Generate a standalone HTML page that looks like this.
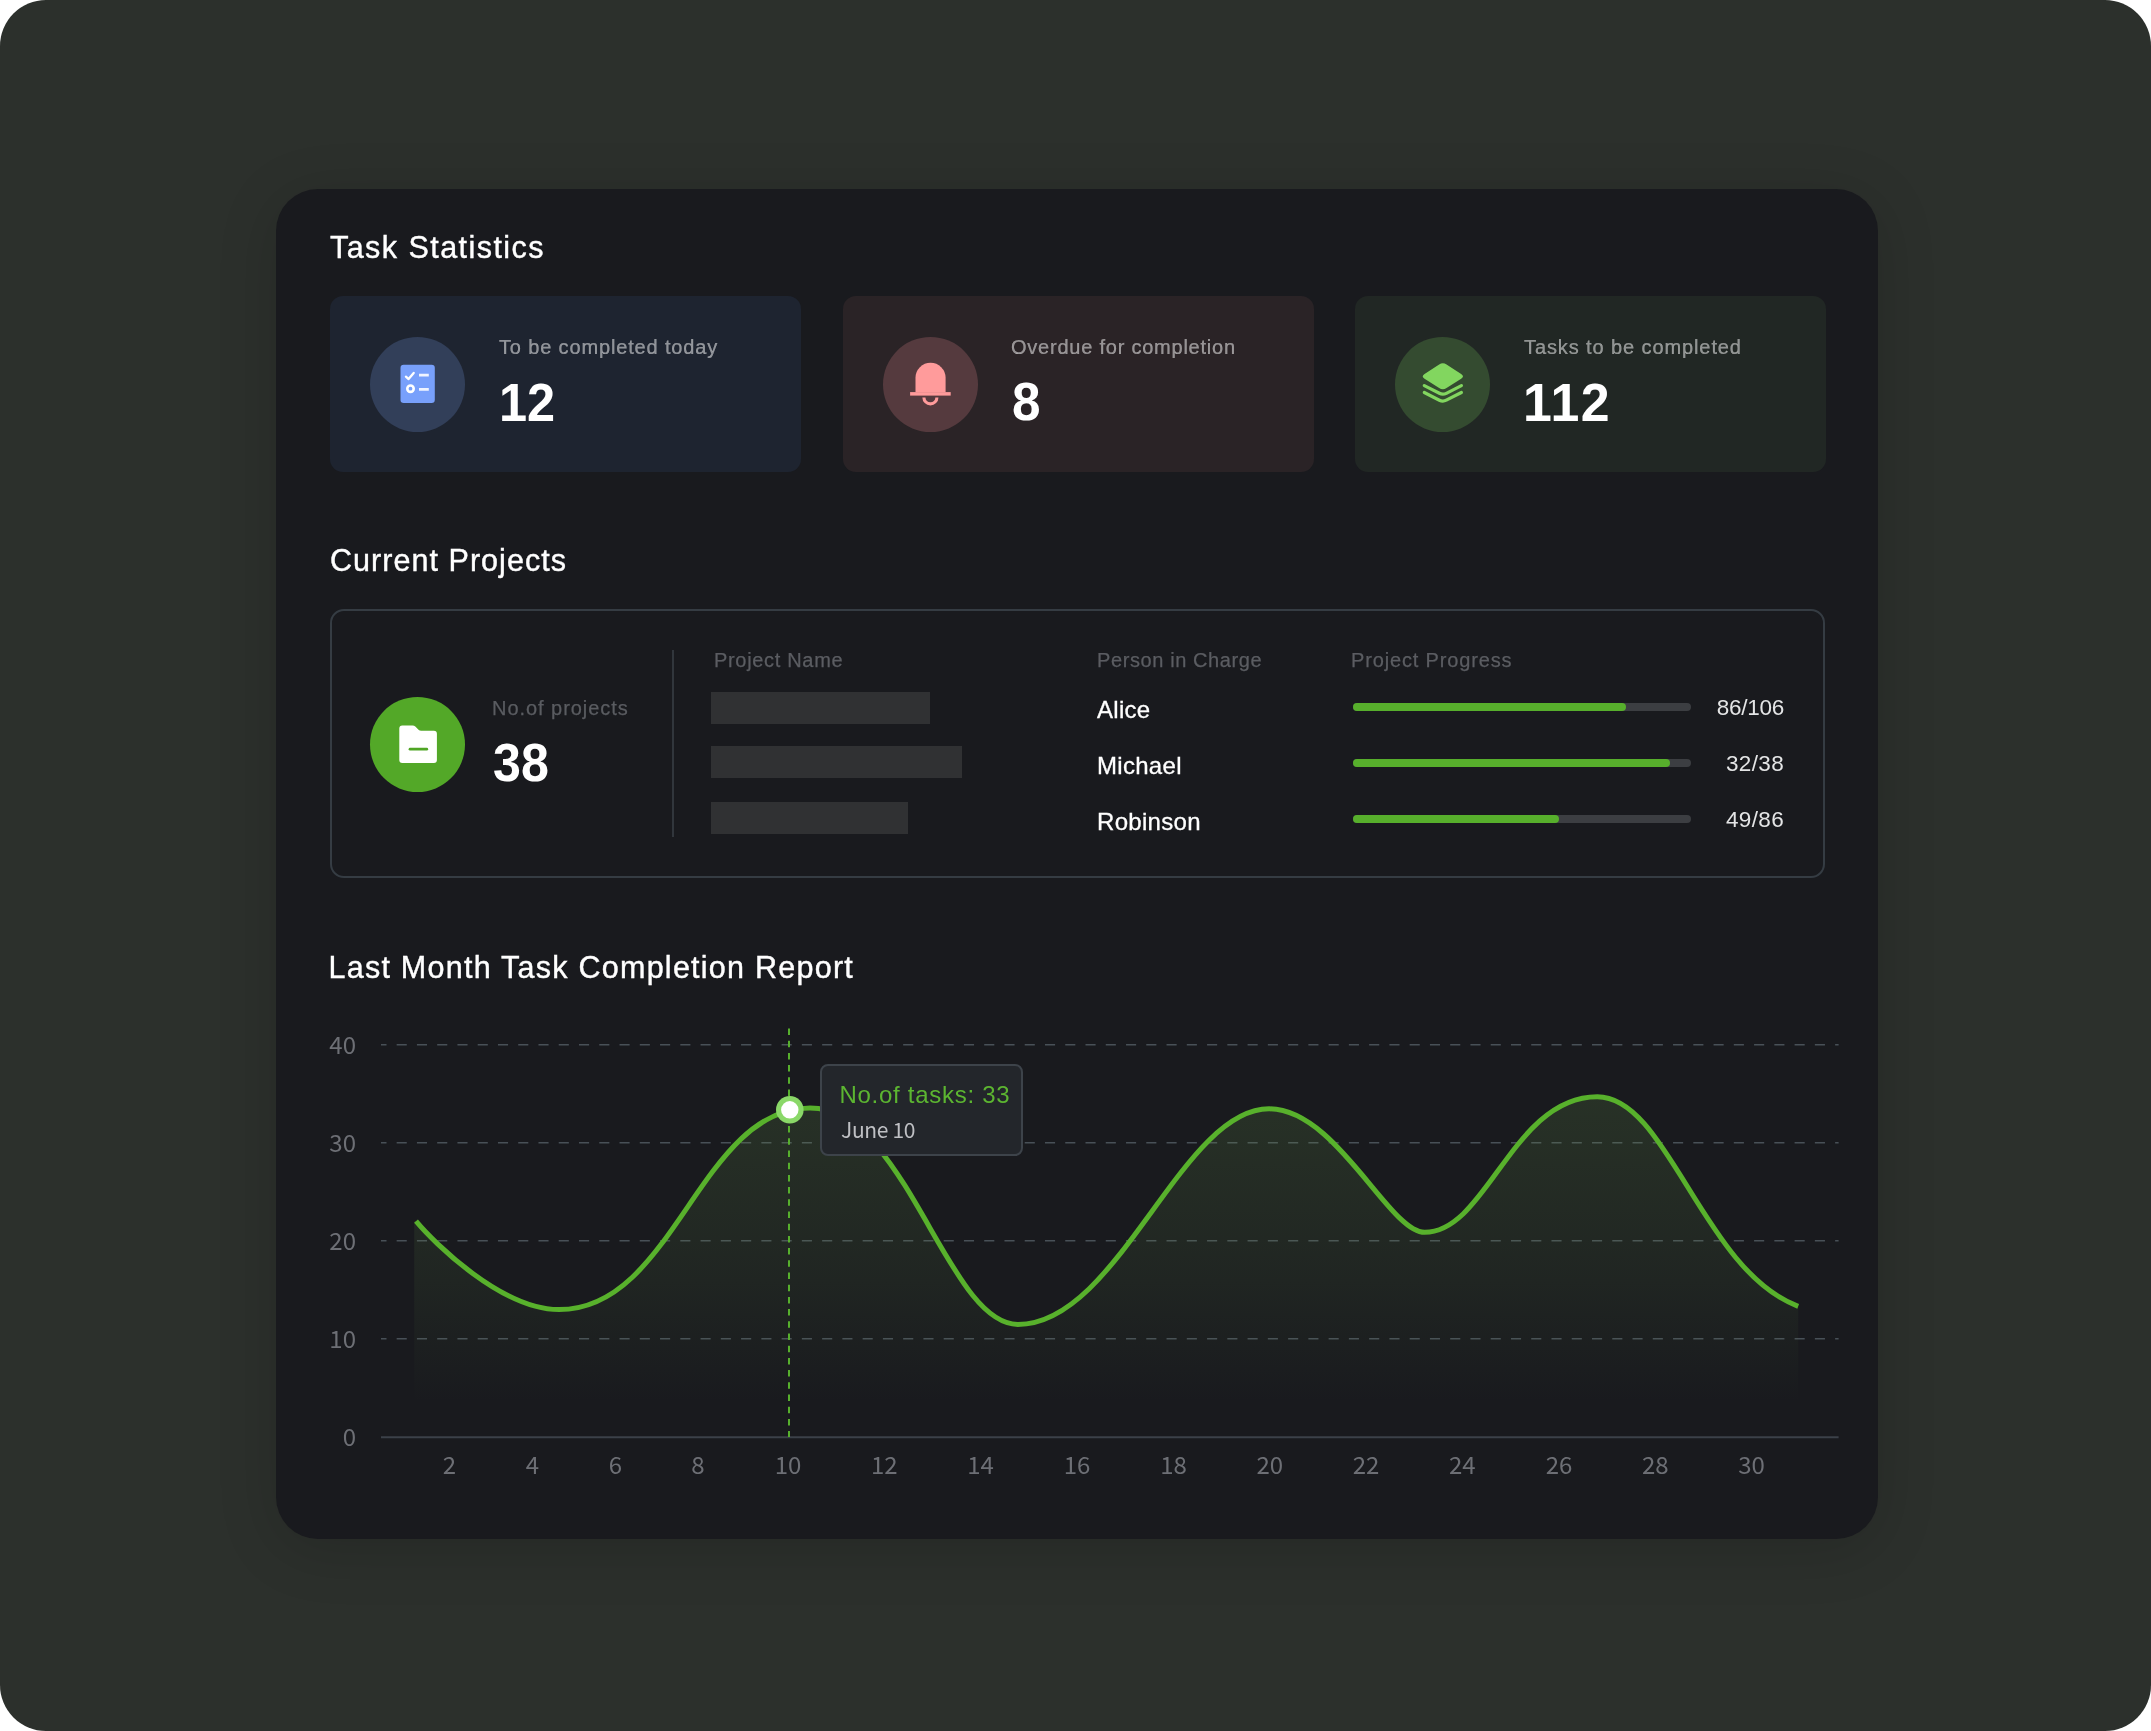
<!DOCTYPE html>
<html lang="en">
<head>
<meta charset="utf-8">
<title>Task Statistics</title>
<style>
html,body{margin:0;padding:0;background:#fff;}
body{width:2151px;height:1731px;position:relative;overflow:hidden;font-family:"Liberation Sans",sans-serif;color:#fff;}
#root{position:absolute;left:0;top:0;width:2151px;height:1731px;will-change:transform;}
.bg{position:absolute;left:0;top:0;width:2151px;height:1731px;background:#2c302c;border-radius:46px;}
.card{position:absolute;left:276px;top:189px;width:1602px;height:1350px;background:#191a1e;border-radius:42px;box-shadow:0 10px 60px rgba(0,0,0,.16);}
.title{position:absolute;left:330px;font-size:30.5px;line-height:40px;color:#fff;white-space:nowrap;letter-spacing:1.2px;-webkit-text-stroke:.4px #fff;}
.stat{position:absolute;top:296px;width:471px;height:176px;border-radius:13px;}
.circ{position:absolute;width:95px;height:95px;border-radius:50%;}
.lbl{position:absolute;font-size:20px;line-height:26px;color:rgba(255,255,255,.5);white-space:nowrap;letter-spacing:.85px;-webkit-text-stroke:.2px rgba(255,255,255,.5);}
.num{position:absolute;font-size:54px;line-height:54px;font-weight:bold;color:#fff;white-space:nowrap;transform-origin:0 100%;transform:scaleX(.96);}
.box{position:absolute;left:330px;top:609px;width:1491px;height:265px;border:2px solid #353c43;border-radius:14px;}
.hd{position:absolute;top:647px;font-size:20px;line-height:26px;color:#5b5d62;white-space:nowrap;letter-spacing:.6px;-webkit-text-stroke:.25px currentColor;}
.gbar{position:absolute;left:711px;height:32px;background:#303133;}
.name{position:absolute;left:1097px;font-size:24px;line-height:30px;color:#fff;white-space:nowrap;letter-spacing:.3px;-webkit-text-stroke:.3px #fff;}
.track{position:absolute;left:1353px;width:338px;height:8px;border-radius:4px;background:#3c3e42;}
.fill{position:absolute;left:0;top:0;height:8px;border-radius:4px;background:#57af2c;}
.val{position:absolute;right:367px;font-size:22.5px;line-height:26px;color:#e4e5e6;white-space:nowrap;letter-spacing:0;margin-top:1px;}
.chart{position:absolute;left:0;top:0;}
.ax{font-family:"Noto Sans CJK SC","Liberation Sans",sans-serif;font-size:24px;fill:#6d6f75;}
.tip{position:absolute;left:820.4px;top:1064px;width:199px;height:87.5px;background:#23262b;border:2px solid #3d434a;border-radius:8px;}
.tip1{position:absolute;left:839.5px;top:1080px;font-size:24px;line-height:30px;color:#5cb531;white-space:nowrap;letter-spacing:.72px;}
.tip2{position:absolute;left:841px;top:1114px;font-size:21px;line-height:30px;color:#bfc0c4;white-space:nowrap;letter-spacing:-.35px;font-family:"Noto Sans CJK SC","Liberation Sans",sans-serif;}
</style>
</head>
<body>
<div id="root">
<div class="bg"></div>
<div class="card"></div>

<div class="title" style="top:227.4px;letter-spacing:1.45px;">Task Statistics</div>

<div class="stat" style="left:330px;background:#1e2430;"></div>
<div class="stat" style="left:843px;background:#2a2326;"></div>
<div class="stat" style="left:1354.6px;background:#212724;"></div>

<div class="circ" style="left:370.3px;top:336.6px;background:#323f59;"></div>
<div class="circ" style="left:883px;top:336.6px;background:#553a3e;"></div>
<div class="circ" style="left:1395px;top:336.6px;background:#344b30;"></div>

<div class="lbl" style="left:499px;top:334px;">To be completed today</div>
<div class="lbl" style="left:1011px;top:334px;letter-spacing:.77px;">Overdue for completion</div>
<div class="lbl" style="left:1524px;top:334px;letter-spacing:.9px;">Tasks to be completed</div>

<div class="num" style="left:499px;top:374.6px;transform:scaleX(.935);">12</div>
<div class="num" style="left:1011.5px;top:374.4px;transform:scaleX(.95);">8</div>
<div class="num" style="left:1523px;top:374.6px;letter-spacing:1.6px;transform:scaleX(.96);">112</div>

<div class="title" style="top:540.4px;letter-spacing:1.04px;">Current Projects</div>
<div class="box"></div>
<div class="circ" style="left:370.3px;top:696.7px;background:#53a828;"></div>
<div class="lbl" style="left:492px;top:694.5px;color:#5a5c61;-webkit-text-stroke:.25px #5a5c61;letter-spacing:.95px;">No.of projects</div>
<div class="num" style="left:493px;top:734.6px;transform:scaleX(.93);">38</div>
<div style="position:absolute;left:672.3px;top:649.5px;width:2px;height:187.5px;background:#31363c;"></div>

<div class="hd" style="left:714px;letter-spacing:.68px;">Project Name</div>
<div class="gbar" style="top:692px;width:219px;"></div>
<div class="gbar" style="top:746px;width:251px;"></div>
<div class="gbar" style="top:802px;width:197px;"></div>

<div class="hd" style="left:1097px;">Person in Charge</div>
<div class="name" style="top:695px;">Alice</div>
<div class="name" style="top:751px;">Michael</div>
<div class="name" style="top:807px;">Robinson</div>

<div class="hd" style="left:1351px;letter-spacing:.85px;">Project Progress</div>
<div class="track" style="top:703px;"><div class="fill" style="width:273px;"></div></div>
<div class="track" style="top:759px;"><div class="fill" style="width:317px;"></div></div>
<div class="track" style="top:815px;"><div class="fill" style="width:206px;"></div></div>
<div class="val" style="top:694px;letter-spacing:-.25px;">86/106</div>
<div class="val" style="top:750px;letter-spacing:.35px;">32/38</div>
<div class="val" style="top:806px;letter-spacing:.35px;">49/86</div>

<div class="title" style="top:947px;left:328.5px;letter-spacing:1.25px;">Last Month Task Completion Report</div>

<svg class="chart" width="2151" height="1731" viewBox="0 0 2151 1731">
<defs>
<linearGradient id="ga" x1="0" y1="1097" x2="0" y2="1402" gradientUnits="userSpaceOnUse">
<stop offset="0" stop-color="#5f8a46" stop-opacity=".21"/>
<stop offset=".6" stop-color="#5f8a46" stop-opacity=".10"/>
<stop offset="1" stop-color="#5f8a46" stop-opacity="0"/>
</linearGradient>
</defs>
<g stroke="#485057" stroke-width="1.5" stroke-dasharray="10.1 10.16" stroke-dashoffset="4.6" fill="none">
<path d="M381,1044.8H1838.6"/><path d="M381,1142.8H1838.6"/><path d="M381,1240.8H1838.6"/><path d="M381,1338.8H1838.6"/>
</g>
<path d="M381,1437.3H1838.6" stroke="#3b4149" stroke-width="2" fill="none"/>
<path d="M416.0,1221.2 C433.9,1242.7 501.8,1309.6 559.0,1309.6 C674.5,1309.6 699.6,1108.0 810.0,1108.0 C905.6,1108.0 947.1,1324.4 1017.8,1324.4 C1118.3,1324.4 1181.1,1108.8 1269.1,1108.8 C1336.0,1108.8 1388.9,1232.3 1424.7,1232.3 C1486.8,1232.3 1512.7,1096.7 1597.3,1096.7 C1667.6,1096.7 1702.8,1270.5 1798.2,1306.3 L1798.2,1402 L414.2,1402 L414.2,1221.2 Z" fill="url(#ga)" stroke="none"/>
<path d="M789,1028.5V1437" stroke="#57b02d" stroke-width="2" stroke-dasharray="6.5 5.7" fill="none"/>
<path d="M416.0,1221.2 C433.9,1242.7 501.8,1309.6 559.0,1309.6 C674.5,1309.6 699.6,1108.0 810.0,1108.0 C905.6,1108.0 947.1,1324.4 1017.8,1324.4 C1118.3,1324.4 1181.1,1108.8 1269.1,1108.8 C1336.0,1108.8 1388.9,1232.3 1424.7,1232.3 C1486.8,1232.3 1512.7,1096.7 1597.3,1096.7 C1667.6,1096.7 1702.8,1270.5 1798.2,1306.3" fill="none" stroke="#58b12c" stroke-width="5" stroke-linecap="butt" stroke-linejoin="round"/>
<circle cx="789.8" cy="1109.8" r="13.8" fill="#8ad868"/>
<circle cx="789.8" cy="1109.8" r="8.7" fill="#ffffff"/>

<!-- checklist icon -->
<rect x="400.5" y="364.8" width="34.3" height="38.2" rx="3.2" fill="#78a0fb"/>
<path d="M405.9,376.7L408.6,379.1L413.7,372.9" stroke="#fff" stroke-width="2.3" fill="none" stroke-linecap="round" stroke-linejoin="round"/>
<path d="M419,375.2H428.8M419,389.3H428.8" stroke="#f0f4ff" stroke-width="2.7" fill="none"/>
<circle cx="410.5" cy="388.7" r="3.2" stroke="#fff" stroke-width="2.6" fill="none"/>
<!-- bell icon -->
<path d="M915.5,392.3V377.7A15.05,14.9 0 0 1 945.6,377.7V392.3Z" fill="#ff9b9b"/>
<rect x="910.1" y="392.1" width="40.6" height="3.5" fill="#ff9b9b"/>
<path d="M923.9,397.4A6.5,6.5 0 0 0 936.9,397.4" stroke="#ff9b9b" stroke-width="3.1" fill="none"/>
<!-- layers icon -->
<path d="M1446.55,364.49L1461.15,373.91Q1464.85,376.3 1461.15,378.69L1446.55,388.11Q1442.85,390.5 1439.15,388.11L1424.55,378.69Q1420.85,376.3 1424.55,373.91L1439.15,364.49Q1442.85,362.1 1446.55,364.49Z" fill="#82d65f"/>
<path d="M1424.3,385.6L1439.4,393.3Q1442.85,395.1 1446.3,393.3L1461.4,385.6" stroke="#82d65f" stroke-width="3.2" fill="none" stroke-linecap="round" stroke-linejoin="round"/>
<path d="M1424.3,392.5L1439.4,400.2Q1442.85,402 1446.3,400.2L1461.4,392.5" stroke="#82d65f" stroke-width="3.2" fill="none" stroke-linecap="round" stroke-linejoin="round"/>
<!-- folder icon -->
<path d="M402.3,725.4H412.6Q414.2,725.4 415.3,726.5L418.5,729.7Q419.6,730.8 421.2,730.8H433.9A3,3 0 0 1 436.9,733.8V760A3,3 0 0 1 433.9,763H402.3A3,3 0 0 1 399.3,760V728.4A3,3 0 0 1 402.3,725.4Z" fill="#fff"/>
<path d="M410,749.2H426.8" stroke="#4fa524" stroke-width="2.7" stroke-linecap="round" fill="none"/>
<g class="ax" text-anchor="end">
<text x="356" y="1054">40</text><text x="356" y="1152">30</text><text x="356" y="1250">20</text><text x="356" y="1348">10</text><text x="356" y="1446">0</text>
</g>
<g class="ax" text-anchor="middle">
<text x="449.5" y="1474">2</text><text x="532.5" y="1474">4</text><text x="615.5" y="1474">6</text><text x="698" y="1474">8</text><text x="788" y="1474">10</text><text x="884.2" y="1474">12</text><text x="980.6" y="1474">14</text><text x="1077" y="1474">16</text><text x="1173.5" y="1474">18</text><text x="1269.7" y="1474">20</text><text x="1366" y="1474">22</text><text x="1462.3" y="1474">24</text><text x="1559" y="1474">26</text><text x="1655.3" y="1474">28</text><text x="1751.6" y="1474">30</text>
</g>
</svg>

<div class="tip"></div>
<div class="tip1">No.of tasks: 33</div>
<div class="tip2">June 10</div>
</div>

</body>
</html>
